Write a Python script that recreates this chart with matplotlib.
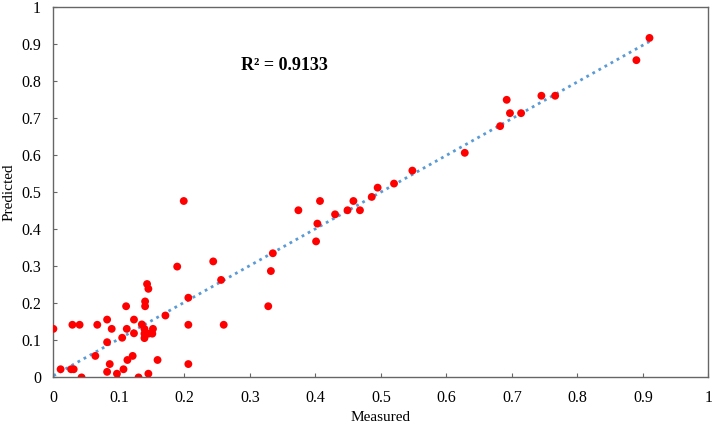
import numpy as np
import matplotlib.pyplot as plt

# measured vs predicted values
measured = [0.910, 0.890, 0.692, 0.745, 0.766, 0.697, 0.714, 0.682, 0.628, 0.548,
            0.520, 0.495, 0.486, 0.458, 0.407, 0.449, 0.468, 0.430, 0.374, 0.403,
            0.401, 0.199,
            0.000, 0.011, 0.027, 0.031, 0.043, 0.029, 0.040, 0.067, 0.064, 0.082,
            0.089, 0.082, 0.086, 0.082, 0.097, 0.105, 0.107, 0.111, 0.112, 0.113,
            0.121, 0.123, 0.123, 0.130, 0.135, 0.139, 0.139, 0.139, 0.145, 0.152,
            0.151, 0.140, 0.140, 0.143, 0.145, 0.145, 0.159, 0.171, 0.189, 0.206,
            0.206, 0.206, 0.244, 0.256, 0.260, 0.332, 0.335, 0.328]
predicted = [0.916, 0.856, 0.749, 0.760, 0.760, 0.713, 0.713, 0.678, 0.606, 0.558,
             0.523, 0.512, 0.487, 0.476, 0.476, 0.451, 0.451, 0.440, 0.451, 0.415,
             0.367, 0.476,
             0.131, 0.022, 0.022, 0.022, 0.000, 0.142, 0.142, 0.142, 0.058, 0.156,
             0.131, 0.095, 0.036, 0.015, 0.010, 0.107, 0.022, 0.192, 0.131, 0.047,
             0.058, 0.156, 0.119, 0.000, 0.143, 0.131, 0.118, 0.106, 0.118, 0.131,
             0.118, 0.205, 0.192, 0.252, 0.239, 0.010, 0.047, 0.167, 0.299, 0.215,
             0.142, 0.036, 0.313, 0.263, 0.142, 0.287, 0.335, 0.192]
r2_label = "R² = 0.9133"
ticks = [0, 0.1, 0.2, 0.3, 0.4, 0.5, 0.6, 0.7, 0.8, 0.9, 1]

plt.rcParams['font.family'] = ['Liberation Serif', 'DejaVu Serif']

fig = plt.figure(figsize=(7.12, 4.25), dpi=100)
ax = fig.add_axes([0.075, 0.112, 0.920, 0.872])

x = np.array(measured)
y = np.array(predicted)

# linear trend line (Excel style, dotted)
k, b = np.polyfit(x, y, 1)
xl = np.array([x.min(), x.max()])
ax.plot(xl, k * xl + b, linestyle=(0, (1, 1.5)), color='#5b9bd5', linewidth=2, zorder=2)

ax.scatter(x, y, s=32, color='#ff0000', edgecolors='none', zorder=3)

ax.text(0.286, 0.841, r2_label, fontsize=13, fontweight='bold', va='center', ha='left')

ax.set_xlim(0, 1)
ax.set_ylim(0, 1)
ax.set_xticks(ticks)
ax.set_yticks(ticks)
ax.set_xticklabels([f"{t:g}" for t in ticks])
ax.set_yticklabels([f"{t:g}" for t in ticks])
ax.tick_params(labelsize=11.5, color='#666666', length=3, direction='in')
ax.tick_params(axis='x', pad=9)
ax.tick_params(axis='y', pad=9)
for s in ax.spines.values():
    s.set_color('#666666')
    s.set_linewidth(1)

ax.set_xlabel("Measured", fontsize=11, labelpad=4)
ax.set_ylabel("Predicted", fontsize=11, labelpad=4)

fig.savefig("out.png", dpi=100)
